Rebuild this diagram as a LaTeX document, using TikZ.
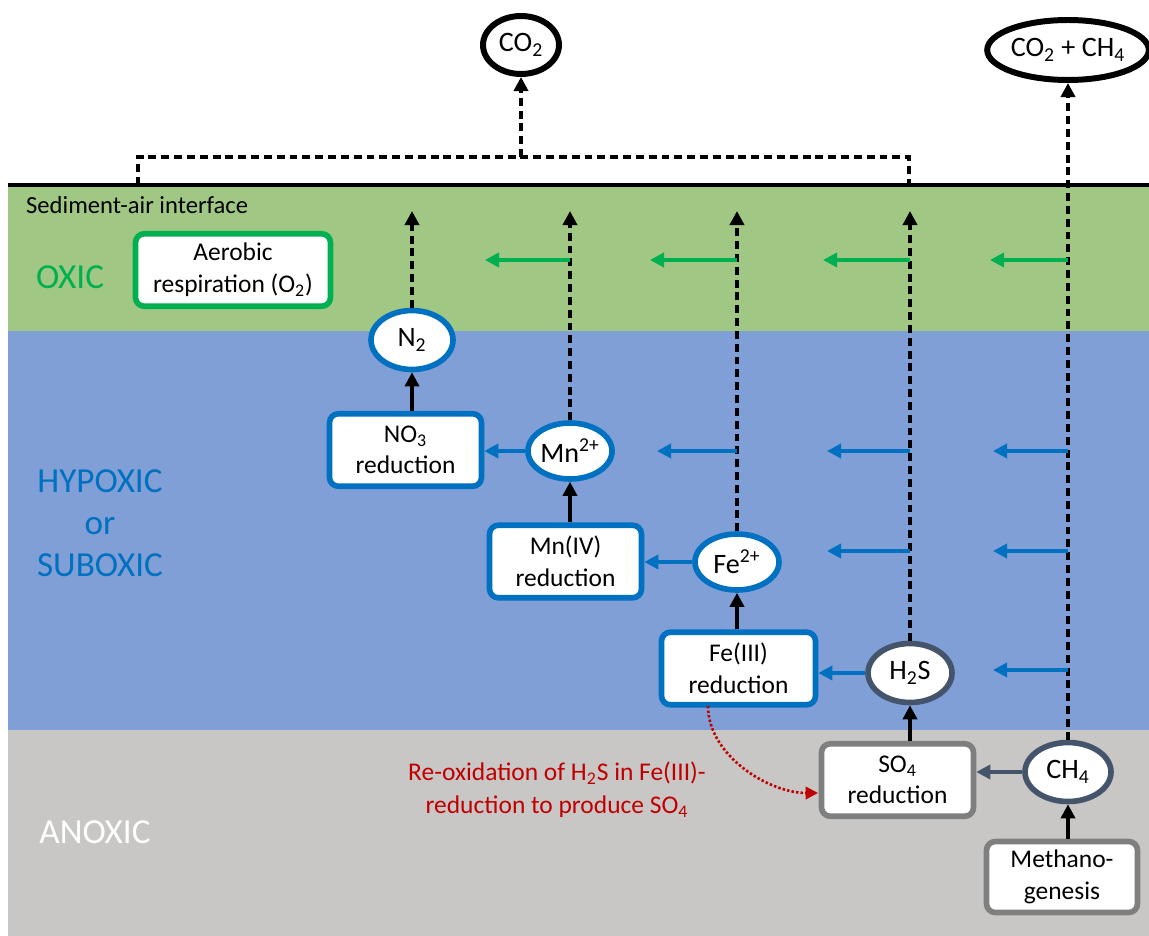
\documentclass[tikz,border=0pt]{standalone}
\usepackage{fontspec}
\setmainfont{Carlito}
\usetikzlibrary{arrows.meta,shapes.geometric}

\definecolor{oxgreen}{HTML}{00B050}
\definecolor{hypblue}{HTML}{0070C0}
\definecolor{slate}{HTML}{44546A}
\definecolor{boxgray}{HTML}{7F7F7F}
\definecolor{redtxt}{HTML}{C00000}
\definecolor{bandgreen}{HTML}{A0C884}
\definecolor{bandblue}{HTML}{809FD7}
\definecolor{bandgray}{HTML}{C8C7C6}

\begin{document}
\begin{tikzpicture}[x=0.02cm,y=-0.02cm,>={Triangle[length=8pt,width=8pt]}]

     \tikzstyle{proc}=[draw,rounded corners=5pt,line width=3.2pt,fill=white,minimum width=3.04cm,minimum height=1.45cm,inner sep=0pt,align=center,font=\fontsize{14.5}{18}\selectfont]
     \tikzstyle{spec}=[ellipse,draw,line width=3.2pt,fill=white,minimum width=1.68cm,minimum height=1.18cm,inner sep=0pt,font=\fontsize{16}{19}\selectfont]
     \tikzstyle{up}=[->,line width=2.1pt]
     \tikzstyle{flux}=[->,line width=2.1pt,dash pattern=on 4.5pt off 2.8pt]
     \tikzstyle{side}=[->,line width=2pt]
     \tikzstyle{zone}=[font=\fontsize{20}{24}\selectfont,align=center]

      \useasboundingbox (0,0) rectangle (1149,936);

      % sediment layers
      \fill[bandgreen] (8,185) rectangle (1149,331);
      \fill[bandblue] (8,331) rectangle (1149,730);
      \fill[bandgray] (8,730) rectangle (1149,936);
      \draw[line width=2.4pt] (8,185) -- (1149,185);

      \begin{scope}
         \node[anchor=west,font=\fontsize{14}{17}\selectfont] (iface) at (20,205) {Sediment-air interface};
         \node[zone,text=oxgreen] (oxic) at (70,277) {OXIC};
         \node[zone,text=hypblue,font=\fontsize{20}{23.8}\selectfont] (hypoxic) at (100,523) {HYPOXIC\\or\\SUBOXIC};
         \node[zone,text=white] (anoxic) at (95,832) {ANOXIC};

         \node[spec,line width=3.4pt,minimum width=1.52cm,minimum height=1.16cm] (co2) at (521,45) {CO\textsubscript{2}};
         \node[spec,line width=3.4pt,minimum width=3.04cm,minimum height=1.2cm] (co2ch4) at (1068,50) {CO\textsubscript{2} + CH\textsubscript{4}};

         \node[proc,draw=oxgreen,minimum width=3.9cm] (aer) at (233,270) {Aerobic\\respiration (O\textsubscript{2})};

         \node[spec,draw=hypblue,minimum width=1.64cm] (n2) at (412,340) {N\textsubscript{2}};
         \node[proc,draw=hypblue] (no3) at (405.5,450) {NO\textsubscript{3}\\reduction};
         \node[spec,draw=hypblue,minimum height=1.12cm] (mn2) at (570,451) {Mn\textsuperscript{2+}};
         \node[proc,draw=hypblue] (mn4) at (565.5,561.5) {Mn(IV)\\reduction};
         \node[spec,draw=hypblue,minimum height=1.12cm] (fe2) at (737,562) {Fe\textsuperscript{2+}};
         \node[proc,draw=hypblue,minimum width=3.08cm] (fe3) at (738.5,668.5) {Fe(III)\\reduction};
         \node[spec,draw=slate] (h2s) at (910,673) {H\textsubscript{2}S};
         \node[proc,draw=boxgray] (so4) at (897.5,780) {SO\textsubscript{4}\\reduction};
         \node[spec,draw=slate,minimum width=1.72cm] (ch4) at (1068,772) {CH\textsubscript{4}};
         \node[proc,draw=boxgray,minimum width=3.02cm,minimum height=1.42cm] (meth) at (1062,877) {Methano-\\genesis};

         \node[text=redtxt,align=center,font=\fontsize{14.5}{18.7}\selectfont] (reox) at (557,790) {Re-oxidation of H\textsubscript{2}S in Fe(III)-\\reduction to produce SO\textsubscript{4}};

         % production chain
         \draw[up] (no3.north -| n2) to (n2);
         \draw[up] (mn4.north -| mn2) to (mn2);
         \draw[up] (fe3.north -| fe2) to (fe2);
         \draw[up] (so4.north -| h2s) to (h2s);
         \draw[up] (meth.north -| ch4) to (ch4);

         \draw[side,hypblue] (mn2) to (no3.east |- mn2);
         \draw[side,hypblue] (fe2) to (mn4.east |- fe2);
         \draw[side,hypblue] (h2s) to (fe3.east |- h2s);
         \draw[side,slate] (ch4) to (so4.east |- ch4);

         % upward fluxes
         \coordinate (n2top) at (412,211);
         \coordinate (mn2top) at (570,211);
         \coordinate (fe2top) at (737,211);
         \coordinate (h2stop) at (910,211);
         \draw[flux] (n2) to (n2top);
         \draw[flux] (mn2) to (mn2top);
         \draw[flux] (fe2) to (fe2top);
         \draw[flux] (h2s) to (h2stop);
         \draw[flux] (ch4) to (co2ch4);

         \coordinate (bl) at (138,185);
         \coordinate (blu) at (138,157);
         \coordinate (bm) at (521,157);
         \coordinate (bru) at (909,157);
         \coordinate (br) at (909,185);
         \draw[flux,-] (bl) -- (blu) -- (bru) -- (br);
         \draw[flux] (bm) to (co2);

         % lateral arrows, oxic
         \coordinate (g1) at (570,260); \coordinate (g1e) at (485,260);
         \coordinate (g2) at (737,260); \coordinate (g2e) at (650,260);
         \coordinate (g3) at (910,260); \coordinate (g3e) at (823,260);
         \coordinate (g4) at (1068,260); \coordinate (g4e) at (990,260);
         \draw[side,oxgreen] (g1) to (g1e);
         \draw[side,oxgreen] (g2) to (g2e);
         \draw[side,oxgreen] (g3) to (g3e);
         \draw[side,oxgreen] (g4) to (g4e);

         % lateral arrows, hypoxic
         \coordinate (b1) at (737,451); \coordinate (b1e) at (657,451);
         \coordinate (b2) at (910,451); \coordinate (b2e) at (827,451);
         \coordinate (b3) at (1068,451); \coordinate (b3e) at (993,451);
         \coordinate (b4) at (910,551); \coordinate (b4e) at (827,551);
         \coordinate (b5) at (1068,551); \coordinate (b5e) at (993,551);
         \coordinate (b6) at (1068,670); \coordinate (b6e) at (993,670);
         \draw[side,hypblue] (b1) to (b1e);
         \draw[side,hypblue] (b2) to (b2e);
         \draw[side,hypblue] (b3) to (b3e);
         \draw[side,hypblue] (b4) to (b4e);
         \draw[side,hypblue] (b5) to (b5e);
         \draw[side,hypblue] (b6) to (b6e);

         % re-oxidation
         \coordinate (rst) at (708,706);
         \coordinate (rend) at (818,793);
         \draw[->,redtxt,line width=1.5pt,dash pattern=on 1.4pt off 1.2pt,>={Triangle[length=7pt,width=7pt]}] (rst) to[out=-90,in=180,looseness=0.9] (rend);

      \end{scope}
  \end{tikzpicture}
\end{document}
